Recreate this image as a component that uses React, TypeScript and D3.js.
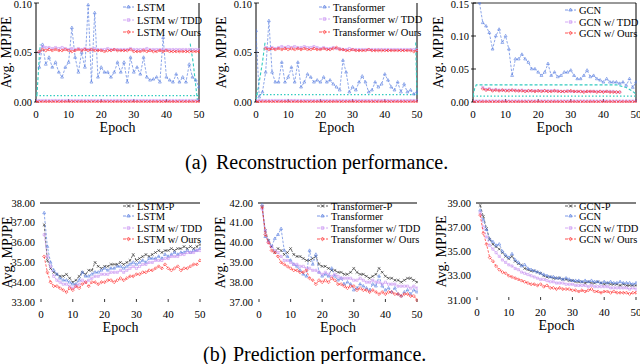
import * as d3 from "d3"
import { useEffect, useRef } from "react"

// ---- reconstruction (top row) ----
const lstmRec = [0.035,0.058,0.038,0.045,0.035,0.040,0.030,0.025,0.035,0.040,0.075,0.045,0.030,0.050,0.035,0.098,0.020,0.090,0.025,0.035,0.030,0.030,0.025,0.030,0.040,0.030,0.040,0.020,0.045,0.030,0.035,0.028,0.045,0.025,0.022,0.023,0.025,0.020,0.065,0.025,0.022,0.020,0.028,0.020,0.025,0.020,0.038,0.025,0.022,0.015]
const lstmTddHi = [0.050,0.056,0.055,0.055,0.054,0.055,0.054,0.055,0.054,0.053,0.054,0.053,0.054,0.053,0.054,0.053,0.053,0.054,0.053,0.053,0.053,0.054,0.053,0.053,0.053,0.053,0.053,0.053,0.054,0.053,0.053,0.053,0.053,0.054,0.053,0.053,0.053,0.053,0.053,0.053,0.053,0.053,0.053,0.053,0.053,0.053,0.053,0.053,0.053,0.053]
const lstmOursHi = [0.051,0.053,0.052,0.053,0.052,0.053,0.052,0.052,0.053,0.052,0.051,0.052,0.053,0.052,0.053,0.052,0.053,0.052,0.052,0.052,0.051,0.052,0.052,0.053,0.052,0.052,0.052,0.052,0.053,0.051,0.051,0.051,0.052,0.051,0.052,0.051,0.051,0.052,0.051,0.052,0.051,0.051,0.051,0.051,0.051,0.051,0.051,0.051,0.051,0.051]
const lowTdd = [0.0015,0.0015,0.0015,0.0015,0.0015,0.0015,0.0015,0.0015,0.0015,0.0015,0.0015,0.0015,0.0015,0.0015,0.0015,0.0015,0.0015,0.0015,0.0015,0.0015,0.0015,0.0015,0.0015,0.0015,0.0015,0.0015,0.0015,0.0015,0.0015,0.0015,0.0015,0.0015,0.0015,0.0015,0.0015,0.0015,0.0015,0.0015,0.0015,0.0015,0.0015,0.0015,0.0015,0.0015,0.0015,0.0015,0.0015,0.0015,0.0015,0.0015,0.0015]
const lowOurs = [0.0003,0.0003,0.0003,0.0003,0.0003,0.0003,0.0003,0.0003,0.0003,0.0003,0.0003,0.0003,0.0003,0.0003,0.0003,0.0003,0.0003,0.0003,0.0003,0.0003,0.0003,0.0003,0.0003,0.0003,0.0003,0.0003,0.0003,0.0003,0.0003,0.0003,0.0003,0.0003,0.0003,0.0003,0.0003,0.0003,0.0003,0.0003,0.0003,0.0003,0.0003,0.0003,0.0003,0.0003,0.0003,0.0003,0.0003,0.0003,0.0003,0.0003,0.0003]
const lstmCyanDash = [[0.3,0.007],[1.0,0.045],[1.3,0.058]]
const lstmCyanDash2 = [[47.3,0.059],[48.2,0.040],[49.5,0.002]]
const lstmCyanDot = [[0,0.0065],[50,0.0065]]

const transRec = [0.072,0.005,0.010,0.030,0.082,0.030,0.020,0.020,0.040,0.020,0.025,0.035,0.020,0.040,0.015,0.020,0.028,0.025,0.020,0.022,0.020,0.025,0.020,0.022,0.018,0.015,0.012,0.042,0.030,0.010,0.015,0.012,0.020,0.026,0.020,0.010,0.012,0.020,0.015,0.018,0.028,0.022,0.015,0.012,0.020,0.010,0.018,0.010,0.012,0.008,0.010]
const transTddHi = [0.055,0.054,0.055,0.054,0.055,0.056,0.055,0.056,0.055,0.056,0.055,0.055,0.056,0.055,0.055,0.056,0.055,0.054,0.055,0.054,0.054,0.055,0.054,0.054,0.053,0.053,0.054,0.053,0.053,0.053,0.053,0.053,0.053,0.053,0.053,0.053,0.053,0.053,0.053,0.053,0.053,0.053,0.053,0.053,0.053,0.053,0.053,0.053]
const transOursHi = [0.054,0.053,0.054,0.053,0.054,0.053,0.054,0.053,0.054,0.053,0.054,0.053,0.054,0.053,0.053,0.054,0.053,0.053,0.054,0.053,0.053,0.054,0.055,0.053,0.053,0.052,0.052,0.053,0.052,0.052,0.052,0.052,0.053,0.052,0.052,0.052,0.052,0.052,0.052,0.052,0.052,0.052,0.052,0.052,0.052,0.052,0.051,0.052]
const transCyanDash = [[0,0.002],[1,0.020],[2,0.040],[2.8,0.060]]
const transCyanDash2 = [[49.6,0.060],[49.8,0.030],[50,0.007]]
const transCyanDot = [[0,0.0075],[50,0.0075]]

const gcnRec = [0.150,0.120,0.115,0.105,0.080,0.100,0.110,0.090,0.100,0.080,0.040,0.065,0.065,0.072,0.065,0.060,0.050,0.050,0.045,0.040,0.045,0.058,0.040,0.045,0.038,0.040,0.045,0.045,0.048,0.040,0.035,0.035,0.040,0.048,0.038,0.040,0.035,0.033,0.030,0.035,0.030,0.030,0.030,0.028,0.030,0.025,0.035,0.022,0.030]
const gcnTddHi = [0.022,0.019,0.020,0.018,0.019,0.018,0.018,0.018,0.018,0.018,0.018,0.017,0.018,0.017,0.017,0.017,0.017,0.017,0.017,0.017,0.017,0.017,0.017,0.017,0.016,0.016,0.017,0.016,0.016,0.016,0.016,0.016,0.016,0.016,0.016,0.016,0.016,0.016,0.016,0.016,0.016,0.015,0.015]
const gcnOursHi = [0.020,0.018,0.019,0.017,0.018,0.017,0.018,0.017,0.017,0.018,0.017,0.017,0.017,0.016,0.017,0.017,0.016,0.017,0.016,0.017,0.016,0.016,0.017,0.016,0.016,0.016,0.016,0.017,0.016,0.016,0.016,0.015,0.016,0.016,0.016,0.015,0.016,0.015,0.016,0.015,0.015,0.015,0.015]
const gcnCyanDash = [[0,0.009],[0.5,0.020],[1,0.026],[44,0.026],[47,0.022],[49,0.016],[50,0.012]]
const gcnCyanDot = [[0,0.009],[50,0.009]]

// ---- prediction (bottom row), epochs 1..50 ----
const lstmP = [36.9,35.1,34.7,34.5,34.4,34.3,34.3,34.4,34.2,34.0,34.1,34.3,34.5,34.4,34.6,34.6,35.0,34.8,34.7,34.8,34.8,34.9,34.9,34.9,35.0,34.9,35.0,35.1,35.4,35.1,35.2,35.3,35.4,35.3,35.4,35.5,35.6,35.5,35.6,35.6,35.7,35.6,35.7,35.7,35.8,35.7,35.8,35.7,35.8,35.9]
const lstmBase = [37.5,35.8,35.0,34.6,34.4,34.2,34.1,34.1,34.0,33.9,33.9,34.1,34.5,34.3,34.3,34.4,34.5,34.5,34.6,34.7,34.6,34.7,34.7,34.8,34.8,34.7,34.8,34.9,35.0,34.9,35.0,35.1,35.0,35.2,35.2,35.2,35.3,35.2,35.4,35.3,35.4,35.5,35.4,35.5,35.5,35.6,35.5,35.6,35.6,35.7]
const lstmTdd = [36.4,35.3,34.8,34.3,34.1,34.0,33.9,33.9,33.8,33.7,33.8,33.9,34.1,34.0,34.1,34.2,34.3,34.3,34.4,34.4,34.4,34.5,34.5,34.5,34.6,34.5,34.6,34.7,34.8,34.7,34.8,34.9,34.9,35.0,35.0,35.1,35.1,35.1,35.2,35.2,35.3,35.3,35.3,35.4,35.4,35.5,35.5,35.5,35.6,35.6]
const lstmOurs = [35.3,34.5,34.0,33.8,33.8,33.7,33.6,33.5,33.7,33.6,33.8,33.7,33.9,34.0,33.8,34.0,34.0,33.9,34.0,34.0,34.1,34.1,34.0,34.1,34.2,34.1,34.2,34.3,34.3,34.4,34.4,34.5,34.5,34.6,34.6,34.7,34.8,34.7,34.9,34.7,34.6,34.7,34.8,34.6,34.7,34.7,34.8,34.9,34.9,35.1]

const transP = [41.8,40.6,40.1,39.8,39.5,39.7,39.6,39.4,39.5,39.7,39.4,39.3,39.3,39.2,39.1,39.1,39.2,39.3,38.9,38.8,38.8,38.7,38.6,38.6,38.5,38.5,38.4,38.4,38.5,38.7,38.5,38.4,38.4,38.3,38.2,38.3,38.4,38.7,38.5,38.3,38.2,38.2,38.1,38.1,38.0,38.1,38.2,38.2,38.1,38.0]
const transBase = [41.9,40.3,40.1,39.8,40.2,40.4,40.7,39.6,39.3,39.1,38.9,38.8,38.6,38.4,38.3,39.6,38.9,39.4,38.5,38.3,38.4,38.3,38.7,38.3,38.1,38.2,37.9,38.0,37.9,37.6,37.7,37.9,37.8,37.7,37.6,37.9,37.8,38.3,37.8,37.6,37.7,37.5,37.7,37.4,37.3,37.5,37.6,37.4,37.6,37.5]
const transTdd = [41.7,40.6,40.0,39.8,39.6,39.5,39.3,39.1,39.1,39.0,38.9,38.9,38.8,38.8,38.7,38.7,38.6,38.6,38.5,38.4,38.5,38.4,38.3,38.4,38.3,38.2,38.2,38.2,38.2,38.1,38.1,38.2,38.1,38.0,38.0,38.1,38.0,38.0,37.9,38.0,37.9,37.9,37.9,37.8,37.8,37.8,37.8,37.7,37.8,37.7]
const transOurs = [41.8,40.4,40.0,39.6,39.5,39.3,39.0,38.9,38.8,38.7,38.6,38.6,38.5,38.5,38.6,38.2,38.1,37.9,38.1,38.0,38.1,38.0,38.2,38.1,37.9,37.9,37.8,37.7,37.8,37.8,37.6,37.7,37.6,37.6,37.5,37.6,37.5,37.4,37.5,37.4,37.5,37.5,37.4,37.4,37.3,37.4,37.4,37.3,37.3,37.1]

const gcnP = [38.8,37.9,36.9,36.0,35.6,35.4,35.2,34.9,34.6,34.4,34.6,34.2,34.0,33.9,33.6,33.5,33.4,33.4,33.3,33.2,33.0,32.9,32.9,32.8,32.8,32.8,32.7,32.7,32.6,32.6,32.5,32.5,32.5,32.4,32.5,32.4,32.4,32.5,32.4,32.3,32.4,32.3,32.3,32.3,32.2,32.3,32.2,32.2,32.2,32.2]
const gcnBase = [38.4,37.6,36.8,36.0,35.8,35.5,35.6,35.0,34.7,34.5,34.8,34.3,34.1,33.8,33.9,33.6,33.5,33.4,33.3,33.2,33.1,33.0,32.9,32.9,32.8,32.8,32.7,32.8,32.7,32.6,32.6,32.6,32.5,32.6,32.5,32.6,32.5,32.5,32.4,32.5,32.4,32.5,32.4,32.4,32.5,32.4,32.4,32.4,32.3,32.4]
const gcnTdd = [38.2,37.0,36.2,35.5,35.2,34.9,34.6,34.3,34.1,33.9,33.8,33.6,33.5,33.3,33.2,33.1,33.0,32.9,32.8,32.7,32.7,32.6,32.5,32.5,32.4,32.4,32.4,32.3,32.3,32.3,32.2,32.2,32.2,32.2,32.1,32.2,32.1,32.1,32.1,32.1,32.1,32.0,32.0,32.0,32.0,32.0,32.0,31.9,32.0,31.9]
const gcnOurs = [38.0,36.5,35.6,34.5,34.2,33.8,33.5,33.3,33.2,33.0,32.9,32.8,32.7,32.6,32.5,32.4,32.3,32.3,32.2,32.3,32.1,32.2,32.0,32.0,31.9,32.0,31.9,31.9,31.9,31.8,31.8,31.7,31.8,31.7,31.8,31.9,31.7,31.7,31.6,31.7,31.7,31.6,31.7,31.6,31.6,31.6,31.6,31.5,31.6,31.6]

const ticksX = [0, 10, 20, 30, 40, 50]
const BLUE = "#5a7fe0", PURPLE = "#c994f2", RED = "#ff2a2a", BLACK = "#333", CYAN = "#33ccc0"
const FONT = "Liberation Serif, Times New Roman, Times, DejaVu Serif, serif"

const S = (values, start, kind) => ({ values, start, kind })
const styles = {
  blue: { color: BLUE, sym: d3.symbolTriangle2, size: 6 },
  tdd: { color: PURPLE, sym: d3.symbolSquare2, size: 6 },
  ours: { color: RED, sym: d3.symbolDiamond2, size: 6 },
  base: { color: BLACK, sym: d3.symbolTimes, size: 6 },
}

const panels = [
  { x0: 36, x1: 199, y0: 3, y1: 102, dom: [0, 0.1], yt: [0, 0.05, 0.1], fmt: ".2f", top: true, box: false, lx: 10,
    cyan: [lstmCyanDash, lstmCyanDash2], dot: [lstmCyanDot],
    series: [S(lstmRec, 1, "blue"), S(lowTdd, 0, "tdd"), S(lowOurs, 0, "ours"), S(lstmTddHi, 1, "tdd"), S(lstmOursHi, 1, "ours")],
    legend: [["LSTM", "blue"], ["LSTM w/ TDD", "tdd"], ["LSTM w/ Ours", "ours"]], legX: 123, legY: [7, 20, 32] },
  { x0: 256, x1: 417, y0: 3, y1: 102, dom: [0, 0.1], yt: [0, 0.05, 0.1], fmt: ".2f", top: true, box: false, lx: 225,
    cyan: [transCyanDash, transCyanDash2], dot: [transCyanDot],
    series: [S(transRec, 0, "blue"), S(lowTdd, 0, "tdd"), S(lowOurs, 0, "ours"), S(transTddHi, 3, "tdd"), S(transOursHi, 3, "ours")],
    legend: [["Transformer", "blue"], ["Transformer w/ TDD", "tdd"], ["Transformer w/ Ours", "ours"]], legX: 319, legY: [7, 19, 32] },
  { x0: 473, x1: 636, y0: 3, y1: 102, dom: [0, 0.15], yt: [0, 0.05, 0.1, 0.15], fmt: ".2f", top: true, box: true, lx: 442,
    cyan: [gcnCyanDash], dot: [gcnCyanDot],
    series: [S(gcnRec, 2, "blue"), S(lowTdd, 0, "tdd"), S(lowOurs, 0, "ours"), S(gcnTddHi, 3, "tdd"), S(gcnOursHi, 3, "ours")],
    legend: [["GCN", "blue"], ["GCN w/ TDD", "tdd"], ["GCN w/ Ours", "ours"]], legX: 565, legY: [10, 22, 33] },
  { x0: 41, x1: 200, y0: 203, y1: 302, dom: [33, 38], yt: [33, 34, 35, 36, 37, 38], fmt: ".2f", top: false, lx: 11,
    series: [S(lstmP, 1, "base"), S(lstmBase, 1, "blue"), S(lstmTdd, 1, "tdd"), S(lstmOurs, 1, "ours")],
    legend: [["LSTM-P", "base"], ["LSTM", "blue"], ["LSTM w/ TDD", "tdd"], ["LSTM w/ Ours", "ours"]], legX: 123, legY: [206, 216, 228, 239] },
  { x0: 259, x1: 417, y0: 203, y1: 302, dom: [37, 42], yt: [37, 38, 39, 40, 41, 42], fmt: ".2f", top: false, lx: 224,
    series: [S(transP, 1, "base"), S(transBase, 1, "blue"), S(transTdd, 1, "tdd"), S(transOurs, 1, "ours")],
    legend: [["Transformer-P", "base"], ["Transformer", "blue"], ["Transformer w/ TDD", "tdd"], ["Transformer w/ Ours", "ours"]], legX: 317, legY: [206, 216, 228, 239] },
  { x0: 477, x1: 636, y0: 203, y1: 300, dom: [31, 39], yt: [31, 33, 35, 37, 39], fmt: ".2f", top: false, lx: 445,
    series: [S(gcnP, 1, "base"), S(gcnBase, 1, "blue"), S(gcnTdd, 1, "tdd"), S(gcnOurs, 1, "ours")],
    legend: [["GCN-P", "base"], ["GCN", "blue"], ["GCN w/ TDD", "tdd"], ["GCN w/ Ours", "ours"]], legX: 565, legY: [206, 216, 228, 239] },
]

function drawPanel(svg, p, idx) {
  const x = d3.scaleLinear().domain([0, 50]).range([p.x0, p.x1])
  const y = d3.scaleLinear().domain(p.dom).range([p.y1, p.y0])
  const g = svg.append("g")

  const clipId = "clip" + idx
  svg.append("clipPath").attr("id", clipId)
    .append("rect").attr("x", p.x0).attr("y", p.y0 - 1).attr("width", p.x1 - p.x0 + 1).attr("height", p.y1 - p.y0 + 2)

  // frame
  if (p.top) {
    g.append("line").attr("x1", p.x0).attr("x2", p.x0).attr("y1", p.y0).attr("y2", p.y1).attr("stroke", "#000").attr("stroke-width", 1)
    g.append("line").attr("x1", p.x1).attr("x2", p.x1).attr("y1", p.y0).attr("y2", p.y1).attr("stroke", "#000").attr("stroke-width", 1)
    if (p.box) g.append("line").attr("x1", p.x0).attr("x2", p.x1).attr("y1", p.y0).attr("y2", p.y0).attr("stroke", "#000").attr("stroke-width", 0.8)
    p.yt.forEach(t => {
      g.append("line").attr("x1", p.x0 - 2).attr("x2", p.x0 + 3).attr("y1", y(t)).attr("y2", y(t)).attr("stroke", "#000").attr("stroke-width", 0.8)
    })
  } else {
    g.append("line").attr("x1", p.x0 - 1).attr("x2", p.x1).attr("y1", p.y0).attr("y2", p.y0).attr("stroke", "#000").attr("stroke-width", 1)
  }
  ticksX.forEach(t => {
    g.append("line").attr("x1", x(t)).attr("x2", x(t)).attr("y1", p.y1 - 3).attr("y2", p.y1).attr("stroke", "#000").attr("stroke-width", 0.8)
  })

  // tick labels
  g.selectAll(".yl").data(p.yt).enter().append("text")
    .attr("x", p.x0 - (p.top ? 4 : 6)).attr("y", d => Math.max(y(d) + 3.5, 8))
    .attr("text-anchor", "end").attr("font-size", 10.5).style("font-family", FONT)
    .text(d => d3.format(p.fmt)(d))
  g.selectAll(".xl").data(ticksX).enter().append("text")
    .attr("x", d => x(d)).attr("y", p.y1 + 16)
    .attr("text-anchor", "middle").attr("font-size", 11).style("font-family", FONT)
    .text(d => d)
  g.append("text").attr("x", (p.x0 + p.x1) / 2).attr("y", p.y1 + 30)
    .attr("text-anchor", "middle").attr("font-size", 14).style("font-family", FONT).text("Epoch")
  g.append("text")
    .attr("transform", `translate(${p.lx + 1},${(p.y0 + p.y1) / 2}) rotate(-90)`)
    .attr("text-anchor", "middle").attr("font-size", 14).style("font-family", FONT).text("Avg. MPJPE")

  const line = d3.line().x(d => x(d[0])).y(d => y(d[1]))
  const data = g.append("g").attr("clip-path", `url(#${clipId})`)

  ;(p.cyan || []).forEach(c => {
    data.append("path").attr("d", line(c)).attr("fill", "none").attr("stroke", CYAN).attr("stroke-width", 1.1).attr("stroke-dasharray", "3,2")
  })
  ;(p.dot || []).forEach(c => {
    data.append("path").attr("d", line(c)).attr("fill", "none").attr("stroke", CYAN).attr("stroke-width", 1.2).attr("stroke-dasharray", "1.5,2")
  })

  p.series.forEach(s => {
    const st = styles[s.kind]
    const pts = s.values.map((v, i) => [s.start + i, v])
    data.append("path").attr("d", line(pts)).attr("fill", "none")
      .attr("stroke", st.color).attr("stroke-width", 0.7).attr("stroke-dasharray", "2.5,1.5")
    data.selectAll(null).data(pts).enter().append("path")
      .attr("transform", d => `translate(${x(d[0])},${y(d[1])})`)
      .attr("d", d3.symbol().type(st.sym).size(st.size))
      .attr("fill", "none").attr("stroke", st.color).attr("stroke-width", 0.6)
  })

  // legend
  p.legend.forEach(([label, kind], i) => {
    const st = styles[kind]
    const ly = p.legY[i]
    g.append("line").attr("x1", p.legX).attr("x2", p.legX + 11).attr("y1", ly).attr("y2", ly)
      .attr("stroke", st.color).attr("stroke-width", 0.8).attr("stroke-dasharray", "3,1.5")
    g.append("path").attr("transform", `translate(${p.legX + 5.5},${ly})`)
      .attr("d", d3.symbol().type(st.sym).size(st.size + 2))
      .attr("fill", "none").attr("stroke", st.color).attr("stroke-width", 0.7)
    g.append("text").attr("x", p.legX + 14).attr("y", ly + 3.5)
      .attr("font-size", 10.5).style("font-family", FONT).text(label)
  })
}

export default function App() {
  const ref = useRef(null)

  useEffect(() => {
    const svg = d3.select(ref.current)
    svg.selectAll("*").remove()
    panels.forEach((p, i) => drawPanel(svg, p, i))

    // captions
    const cap = (x, y, t) => svg.append("text").attr("x", x).attr("y", y).attr("font-size", 20).style("font-family", FONT).text(t)
    cap(185, 169, "(a)")
    cap(216, 169, "Reconstruction performance.")
    cap(203, 361, "(b)")
    cap(233, 361, "Prediction performance.")
  }, [])

  return (
    <svg ref={ref} width={640} height={364}
      style={{ position: "absolute", left: 0, top: 0, background: "#fff" }} />
  )
}
